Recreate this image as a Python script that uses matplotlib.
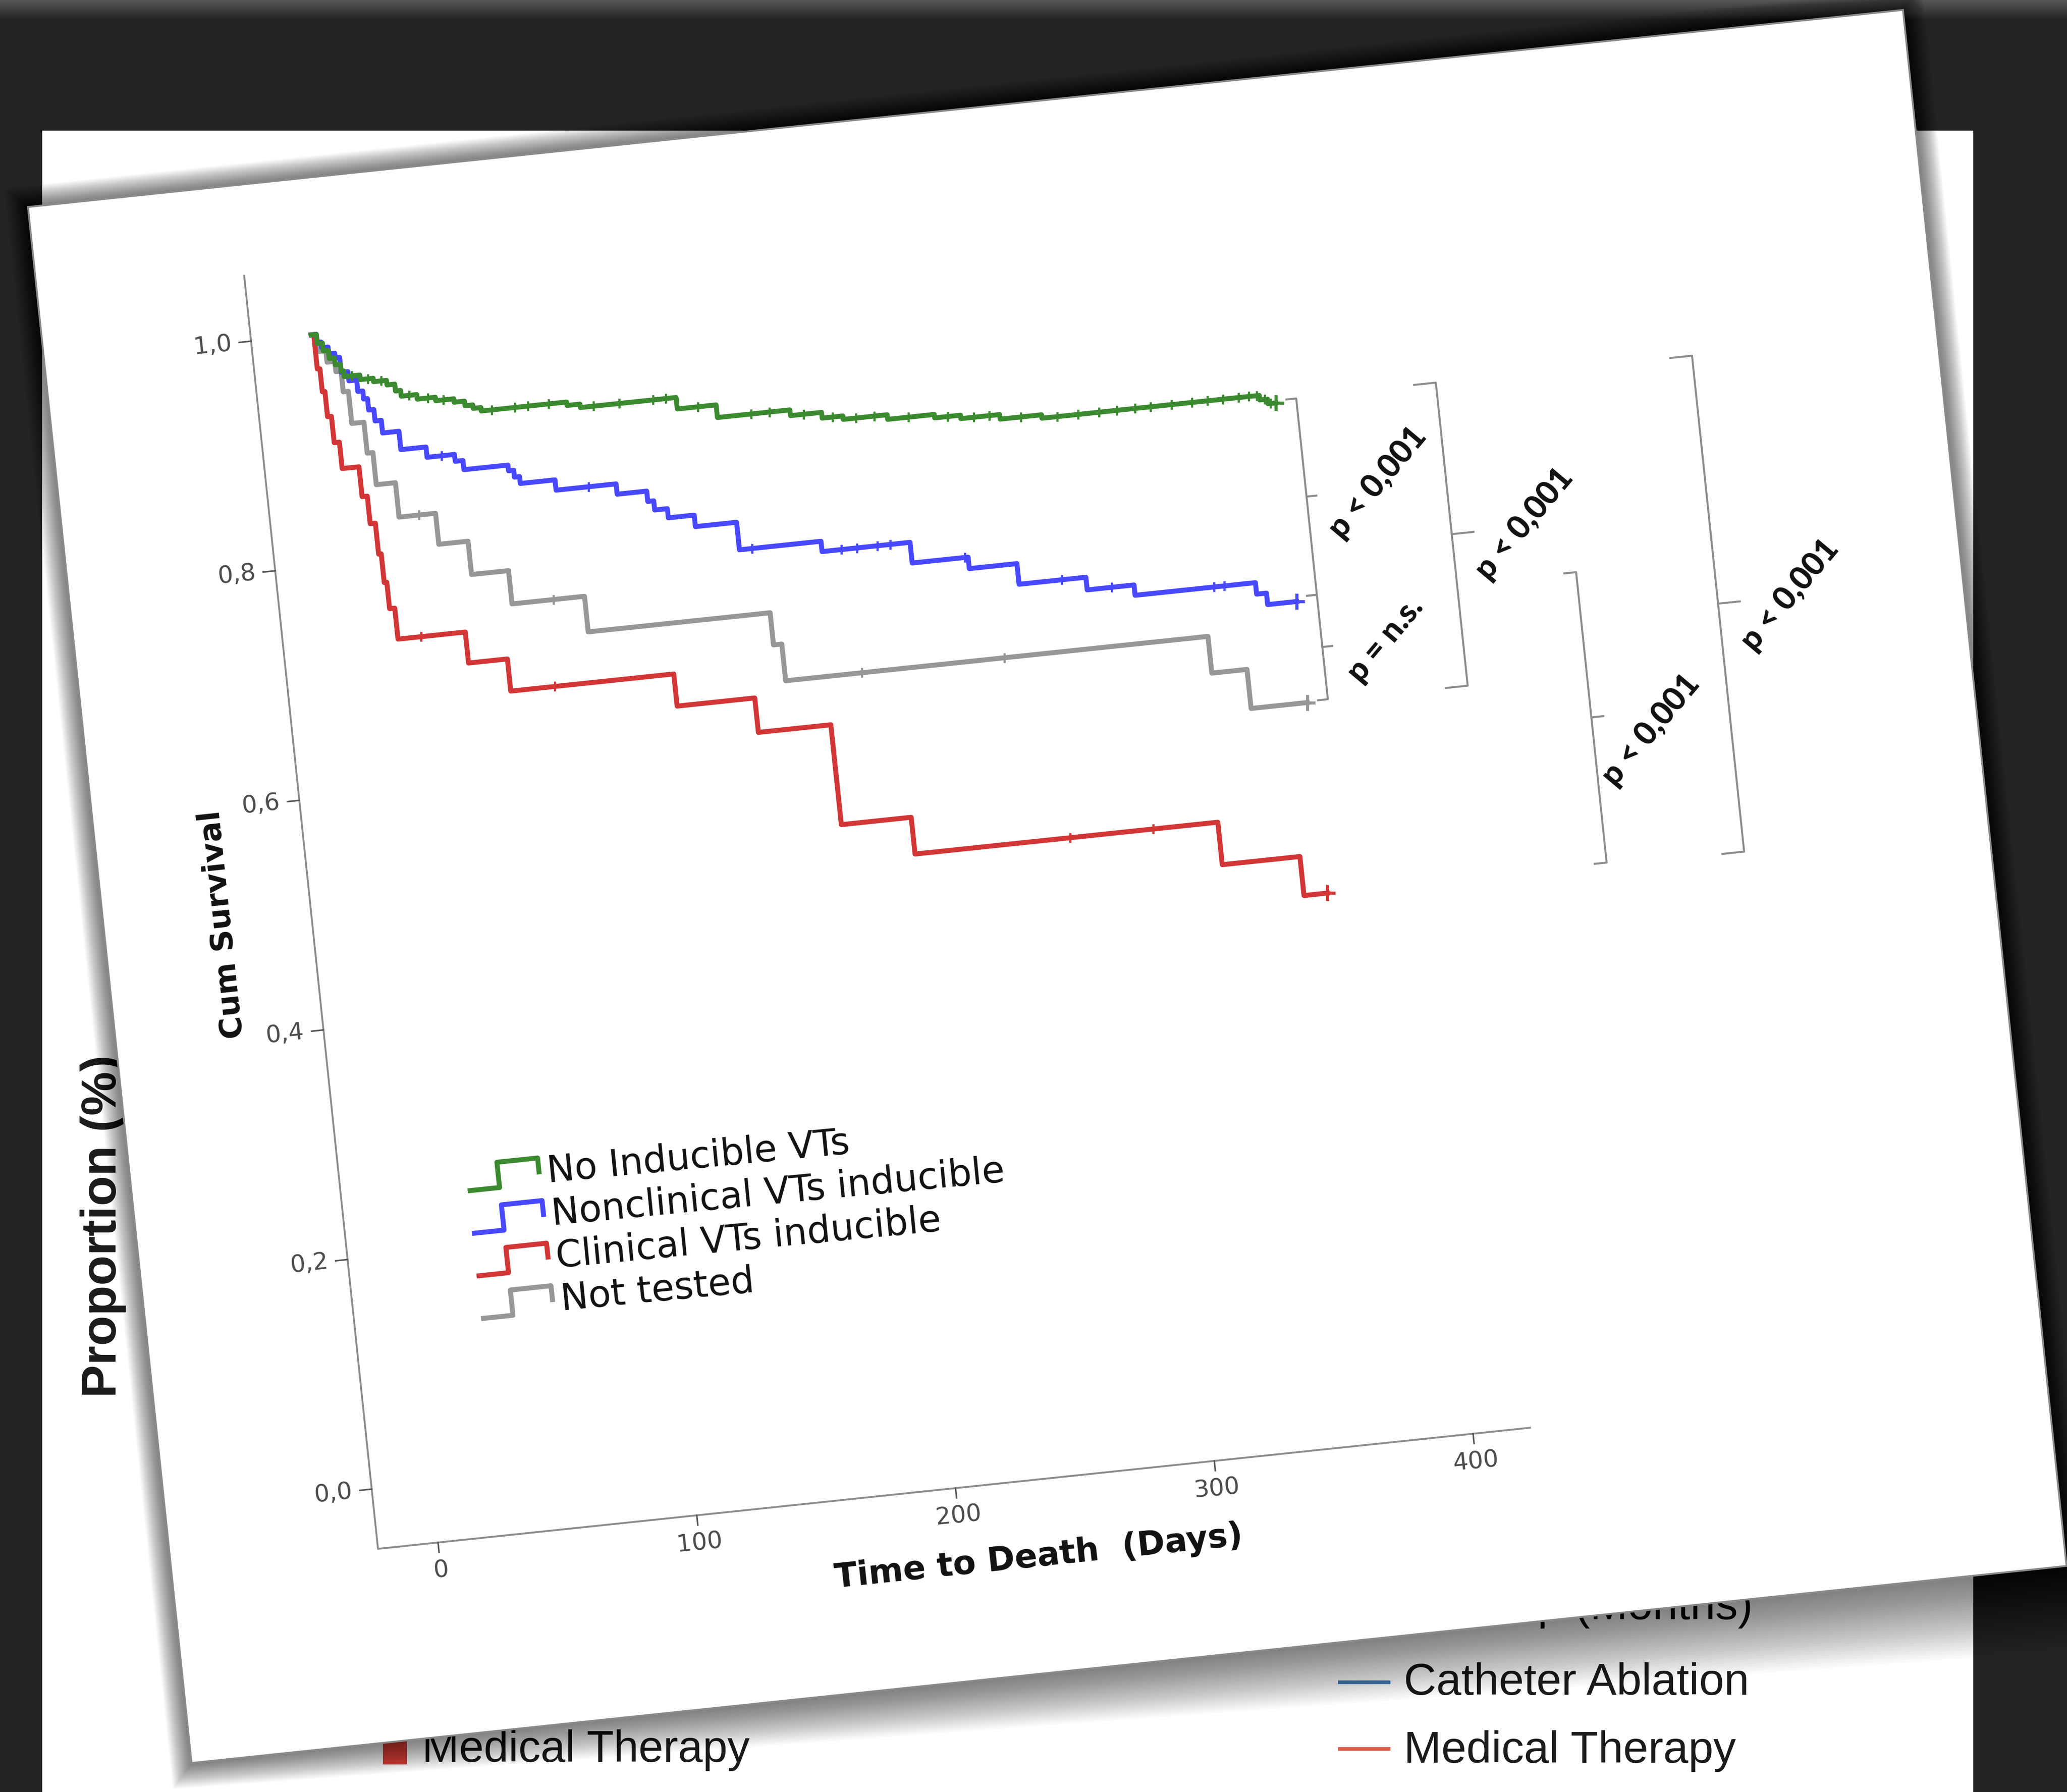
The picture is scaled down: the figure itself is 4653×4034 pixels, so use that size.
import numpy as np
import matplotlib.pyplot as plt
from matplotlib.patches import Rectangle, Polygon
from matplotlib.transforms import Affine2D

plt.rcParams['font.family'] = ['DejaVu Sans']

W, H = 4653, 4034

# Kaplan-Meier curves: day of each step and survival after it
green_t = [0, 2, 4, 6, 8, 10, 11, 17, 22, 27, 30, 32, 38, 45, 52, 56, 59, 62, 95, 100,
           137, 152, 180, 192, 200, 217, 235, 245, 260, 276, 360, 363, 366]
green_s = [1.0, 0.992, 0.985, 0.978, 0.972, 0.966, 0.961, 0.957, 0.954, 0.950, 0.944, 0.939,
           0.935, 0.932, 0.929, 0.925, 0.922, 0.919, 0.916, 0.913, 0.903, 0.892, 0.887, 0.882,
           0.879, 0.875, 0.872, 0.869, 0.865, 0.862, 0.858, 0.854, 0.854]
blue_t = [0, 2, 3.5, 6, 8.3, 10, 12.6, 15.6, 17.5, 19, 21, 23.4, 29.7, 39.4, 50, 53, 70, 72, 74,
          87.4, 110.6, 122, 124.3, 129.2, 139.2, 155.1, 186.6, 220.6, 242.2, 260.6, 286.4,
          304.5, 351, 354.8, 366]
blue_s = [1.0, 0.993, 0.988, 0.982, 0.978, 0.965, 0.957, 0.947, 0.940, 0.930, 0.920, 0.909,
          0.893, 0.884, 0.878, 0.870, 0.865, 0.859, 0.853, 0.844, 0.835, 0.826, 0.818, 0.810,
          0.800, 0.776, 0.767, 0.749, 0.739, 0.721, 0.710, 0.701, 0.691, 0.681, 0.681]
red_t = [0, 1, 2, 3, 4.5, 6.5, 13, 15, 17, 18, 19, 21, 47, 62, 125, 155, 183, 210, 327, 357, 366]
red_s = [1.0, 0.970, 0.950, 0.928, 0.905, 0.882, 0.856, 0.832, 0.805, 0.780, 0.757, 0.730,
         0.703, 0.675, 0.647, 0.617, 0.530, 0.498, 0.461, 0.427, 0.427]
gray_t = [0, 2, 5, 8, 10, 12, 16.7, 18.9, 26.3, 40.4, 51.7, 66, 94, 164.3, 167.5, 330.7, 344.3, 366]
gray_s = [1.0, 0.985, 0.975, 0.966, 0.948, 0.920, 0.893, 0.865, 0.835, 0.808, 0.779, 0.750,
          0.719, 0.691, 0.659, 0.627, 0.593, 0.593]

# censored cases (days)
green_c = [14, 20, 25, 35, 42, 48, 66, 75, 80, 88, 105, 115, 128, 133, 145, 165, 172, 185, 196,
           205, 212, 225, 240, 250, 256, 268, 282, 290, 298, 305, 312, 318, 326, 334, 340, 346,
           352, 356, 359, 362, 364]
blue_c = [45, 100, 160, 194, 200, 208, 213, 241, 277, 296, 335, 339]
red_c = [30, 79, 270, 302]
gray_c = [34, 82, 197, 252]

groups = ["No Inducible VTs", "Nonclinical VTs inducible", "Clinical VTs inducible", "Not tested"]
colors = ["#3b8a2f", "#4848ff", "#d23636", "#979797"]

y_ticks = [0.0, 0.2, 0.4, 0.6, 0.8, 1.0]
x_ticks = [0, 100, 200, 300, 400]

# significance brackets: day, top, bottom, stub length (days) ; then labels
brackets = [(374, 0.856, 0.685, 3.8), (374, 0.685, 0.594, 3.8), (428, 0.857, 0.593, 8.4),
            (474, 0.681, 0.428, 4.6), (527, 0.857, 0.425, 8.4)]
p_texts = ["p < 0,001", "p = n.s.", "p < 0,001", "p < 0,001", "p < 0,001"]
p_pos = [(401.7, 0.776), (398.4, 0.640), (456.1, 0.727), (496.3, 0.538), (554.8, 0.642)]

fig = plt.figure(figsize=(W / 100, H / 100), dpi=100, facecolor="#232323")
ax = fig.add_axes([0, 0, 1, 1])
ax.set_xlim(0, W)
ax.set_ylim(H, 0)
ax.axis("off")

# dark backdrop with a lighter strip on top
grad = np.linspace(0.34, 0.14, 50)[:, None]
ax.imshow(grad, extent=(0, W, 45, 0), cmap="gray", vmin=0, vmax=1, aspect="auto", zorder=0)

# the slide behind
slide_font = ["Liberation Sans", "DejaVu Sans"]
ax.add_patch(Rectangle((95, 294), 4442 - 95, H, fc="white", ec="none", zorder=1))
ax.text(232, 2760, "Proportion (%)", rotation=90, ha="center", va="center", fontsize=80,
        fontweight="bold", family=slide_font, color="#1b1b1b", zorder=2)
ax.add_patch(Rectangle((862, 3910), 54, 62, fc="#e2463c", ec="none", zorder=2))
ax.text(950, 3966, "Medical Therapy", ha="left", va="baseline", fontsize=72, family=slide_font,
        color="#1b1b1b", zorder=2)
ax.plot([3012, 3130], [3787, 3787], color="#4a80b8", lw=6, zorder=2, solid_capstyle="butt")
ax.text(3160, 3815, "Catheter Ablation", ha="left", va="baseline", fontsize=73, family=slide_font,
        color="#1b1b1b", zorder=2)
ax.plot([3012, 3130], [3937, 3937], color="#e0604f", lw=6, zorder=2, solid_capstyle="butt")
ax.text(3160, 3968, "Medical Therapy", ha="left", va="baseline", fontsize=73, family=slide_font,
        color="#1b1b1b", zorder=2)
ax.text(3946, 3645, "Follow-up (Months)", ha="right", va="baseline", fontsize=73,
        family=slide_font, color="#1b1b1b", zorder=2)

# tilted card with a soft shadow that grows towards the lower right
tilt = 6.0
card_w, card_h = 4244, 3522
card = Affine2D().rotate_deg(-tilt).translate(63, 466) + ax.transData
for d in np.linspace(6, 120, 30):
    ax.add_patch(Polygon([(-0.4 * d, -0.4 * d), (card_w + 0.4 * d, -0.4 * d),
                          (card_w + 0.4 * d, card_h + 1.6 * d), (-0.4 * d, card_h + 0.45 * d)],
                         closed=True, transform=card, fc="black", ec="none", alpha=0.018,
                         zorder=3))
ax.add_patch(Rectangle((0, 0), card_w, card_h, transform=card, fc="white", ec="#8a8a8a",
                       lw=3, zorder=4))

# chart frame on the card: days / survival -> page pixels
chart = Affine2D().scale(5.857, -2598.4).rotate_deg(-tilt).translate(971.9, 3338.0) + ax.transData
t_ax, s_ax = -23.2, -0.052

ax.plot([t_ax, t_ax, 422], [1.057, s_ax, s_ax], color="#8c8c8c", lw=3, transform=chart, zorder=5)
for v in y_ticks:
    ax.plot([t_ax - 4.6, t_ax], [v, v], color="#555555", lw=2.5, transform=chart, zorder=5)
    ax.text(t_ax - 7.5, v, f"{v:.1f}".replace(".", ","), transform=chart, ha="right", va="center",
            rotation=tilt, rotation_mode="anchor", fontsize=39, color="#4a4a4a", zorder=5)
for v in x_ticks:
    ax.plot([v, v], [s_ax, s_ax - 0.0085], color="#555555", lw=2.5, transform=chart, zorder=5)
    ax.text(v, s_ax - 0.024, str(v), transform=chart, ha="center", va="center",
            rotation=tilt, rotation_mode="anchor", fontsize=39, color="#4a4a4a", zorder=5)
ax.text(-57.6, 0.5, "Cum Survival", transform=chart, ha="center", va="center",
        rotation=90 + tilt, rotation_mode="anchor", fontsize=50, fontweight="bold",
        color="#111111", zorder=5)
ax.text(229, -0.119, "Time to Death  (Days)", transform=chart, ha="center", va="center",
        rotation=tilt, rotation_mode="anchor", fontsize=54, fontweight="bold",
        color="#111111", zorder=5)

curves = [(green_t, green_s, green_c), (blue_t, blue_s, blue_c),
          (red_t, red_s, red_c), (gray_t, gray_s, gray_c)]
for (t, s, c), col in zip(curves[::-1], colors[::-1]):
    t = np.array(t)
    s = np.array(s)
    ax.step(t, s, where="post", color=col, lw=8, transform=chart, zorder=6)
    idx = np.searchsorted(t, c, side="right") - 1
    ax.plot(c, s[idx], ls="none", marker="|", ms=16, mew=3.5, color=col, transform=chart, zorder=6)
    ax.plot(t[-1], s[-1], ls="none", marker="+", ms=26, mew=5, color=col, transform=chart, zorder=6)

# legend
row_s = [0.2483, 0.2112, 0.1741, 0.1370]
for lab, col, sb in zip(groups, colors, row_s):
    g0, gw, gh = 26.4, 27.1, 0.022
    ax.plot([g0, g0 + 0.42 * gw, g0 + 0.42 * gw, g0 + gw, g0 + gw],
            [sb, sb, sb + gh, sb + gh, sb + 0.45 * gh],
            color=col, lw=8, transform=chart, zorder=6)
    ax.text(56.6, sb, lab, transform=chart, ha="left", va="baseline", rotation=5.5,
            rotation_mode="anchor", fontsize=60, color="#111111", zorder=6)

# brackets and p values
for (bt, s0, s1, stub) in brackets:
    ax.plot([bt - stub, bt, bt, bt - stub], [s0, s0, s1, s1], color="#8c8c8c", lw=3.2,
            transform=chart, zorder=5)
    mid = (s0 + s1) / 2
    ax.plot([bt, bt + stub], [mid, mid], color="#8c8c8c", lw=3.2, transform=chart, zorder=5)
for txt, (pt, ps) in zip(p_texts, p_pos):
    ax.text(pt, ps, txt, transform=chart, ha="center", va="center", rotation=50,
            rotation_mode="anchor", fontsize=52, fontweight=900, family=["Lato", "DejaVu Sans"],
            color="#111111", zorder=6)

ax.set_xlim(0, W)
ax.set_ylim(H, 0)
fig.savefig("out.png", dpi=100, facecolor=fig.get_facecolor())
